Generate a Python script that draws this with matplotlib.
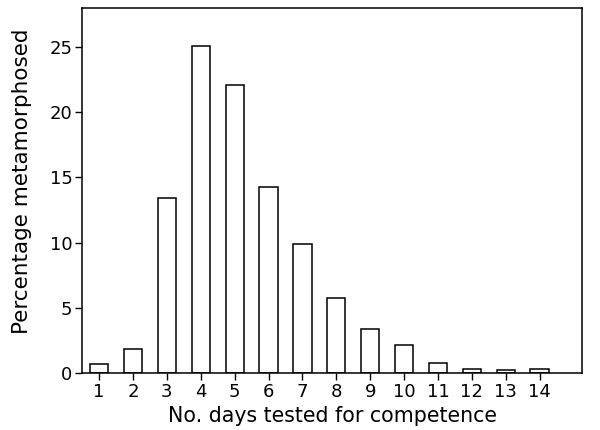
import matplotlib
matplotlib.use('Agg')
import matplotlib.pyplot as plt

# Дни и процент метаморфоза
days = list(range(1, 15))
pct = [0.7, 1.85, 13.4, 25.1, 22.1, 14.3, 9.9, 5.75, 3.35, 2.1, 0.75, 0.3, 0.2, 0.3]
y_ticks = [0, 5, 10, 15, 20, 25]

plt.rcParams['font.family'] = ['DejaVu Sans']
plt.rcParams['font.size'] = 13

fig = plt.figure(figsize=(6, 4.3), dpi=100)
ax = fig.add_axes([0.137, 0.133, 0.833, 0.848])
ax.bar(days, pct, width=0.54, color='white', edgecolor='black', linewidth=1.1)
ax.set_xlim(0.5, 15.25)
ax.set_ylim(0, 28)
ax.set_xticks(days)
ax.set_yticks(y_ticks)
ax.tick_params(direction='out', length=5, width=1, pad=2)
for s in ax.spines.values():
    s.set_linewidth(1.1)
ax.set_xlabel('No. days tested for competence', labelpad=4, fontsize=14.8)
ax.set_ylabel('Percentage metamorphosed', labelpad=6, fontsize=15.5)
ax.yaxis.set_label_coords(-0.1, 0.525)
fig.savefig('out.png', dpi=100)
